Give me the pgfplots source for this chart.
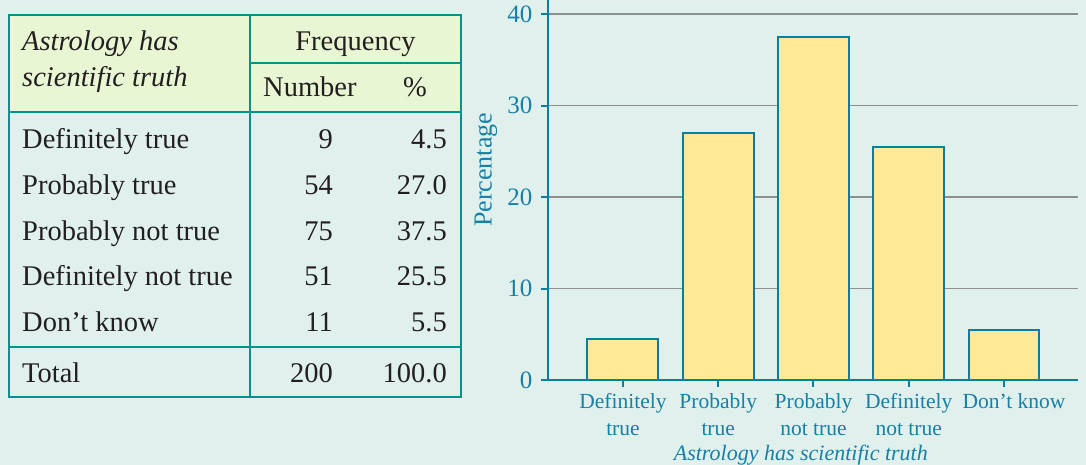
\documentclass[border=0pt]{standalone}
\usepackage{fontspec}
\setmainfont{Liberation Serif}
\usepackage{pgfplots}
\pgfplotsset{compat=1.18}
\definecolor{bg}{HTML}{E0F0EC}
\definecolor{hdr}{HTML}{E9F6D3}
\definecolor{tblline}{HTML}{00928F}
\definecolor{axblue}{HTML}{0A7DA3}
\definecolor{txtblue}{HTML}{1680A6}
\definecolor{barfill}{HTML}{FFE896}
\definecolor{gridgray}{HTML}{8E8E8E}
\definecolor{ink}{HTML}{231F20}
\begin{document}
\begin{tikzpicture}[x=1pt,y=1pt]
\fill[bg] (0,0) rectangle (1086,-465);
\useasboundingbox (0,0) rectangle (1086,-465);
% ---- table ----
\fill[hdr] (9,-15) rectangle (461,-112);
\begin{scope}[tblline, line width=2.2pt]
\draw (9,-15) rectangle (461,-397);
\draw (250,-15) -- (250,-397);
\draw (9,-112) -- (461,-112);
\draw (250,-63) -- (461,-63);
\draw (9,-347) -- (461,-347);
\end{scope}
\begin{scope}[every node/.style={text=ink, font=\fontsize{28.5}{34}\selectfont, inner sep=0pt}]
\node[anchor=base west] at (22,-51) {\itshape Astrology has};
\node[anchor=base west] at (22,-87) {\itshape scientific truth};
\node[anchor=base] at (355.5,-51) {Frequency};
\node[anchor=base west] at (263,-97) {Number};
\node[anchor=base] at (415,-97) {\%};
\foreach \lab/\num/\pct [count=\i from 0] in {Definitely true/9/4.5, Probably true/54/27.0, Probably not true/75/37.5, Definitely not true/51/25.5, Don’t know/11/5.5}{
  \node[anchor=base west] at (22,-149-45.5*\i) {\lab};
  \node[anchor=base east] at (333,-149-45.5*\i) {\num};
  \node[anchor=base east] at (447,-149-45.5*\i) {\pct};
}
\node[anchor=base west] at (22,-382) {Total};
\node[anchor=base east] at (333,-382) {200};
\node[anchor=base east] at (447,-382) {100.0};
\end{scope}
% ---- chart ----
\begin{axis}[
  at={(548pt,-380pt)}, anchor=south west,
  scale only axis, width=530pt, height=380pt,
  xmin=-0.787, xmax=4.777, ymin=0, ymax=41.53,
  axis x line=bottom, axis y line=left,
  axis line style={-, axblue, line width=2pt},
  y axis line style={line width=2.6pt},
  ytick={0,10,20,30,40},
  xtick={0,1,2,3,4},
  xticklabels={Definitely\\true, Probably\\true, Probably\\not true, Definitely\\not true, \hspace*{20pt}Don’t know},
  tick align=outside, major tick length=7pt,
  tick style={axblue, line width=2pt},
  ymajorgrids, grid style={gridgray, line width=1.5pt},
  /pgf/number format/assume math mode=true,
  yticklabel style={font=\fontsize{25}{25}\selectfont, text=txtblue, xshift=-5pt},
  xticklabel style={font=\fontsize{21.5}{27}\selectfont, text=txtblue, align=center, yshift=-3pt},
  ylabel={Percentage},
  ylabel style={at={(axis description cs:-0.117,0.553)}, anchor=center, font=\fontsize{26}{26}\selectfont, text=txtblue},
  xlabel={\itshape Astrology has scientific truth},
  xlabel style={at={(axis description cs:0.477,0)}, anchor=base, yshift=-80pt, font=\fontsize{22}{22}\selectfont, text=txtblue},
]
\addplot[ybar, bar width=0.745, fill=barfill, draw=axblue, line width=2pt]
  coordinates {(0,4.5) (1,27.0) (2,37.5) (3,25.5) (4,5.5)};
\draw[axblue, line width=2.6pt] (axis cs:-0.787,0) -- ++(0pt,-9pt);
\end{axis}
\end{tikzpicture}
\end{document}
